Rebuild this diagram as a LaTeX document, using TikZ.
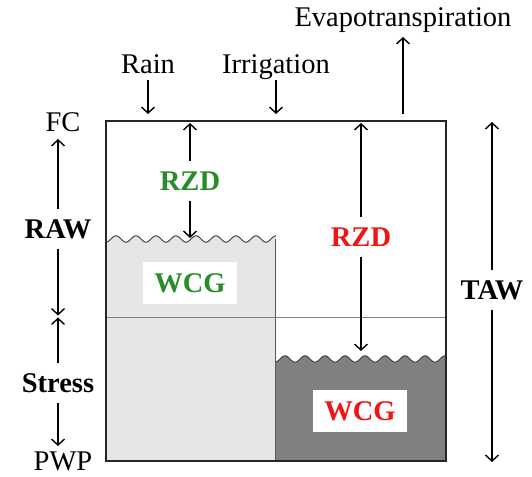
\documentclass[tikz,border=0pt]{standalone}
\usepackage{fontspec}
\setmainfont{Liberation Serif}
\usetikzlibrary{arrows.meta}
\definecolor{wgreen}{RGB}{40,140,40}
\definecolor{wred}{RGB}{240,20,20}
\definecolor{lightfill}{RGB}{230,230,230}
\definecolor{darkfill}{RGB}{128,128,128}
\begin{document}
\begin{tikzpicture}[x=1pt,y=-1pt,
  lbl/.style={font=\fontsize{28.5}{30}\selectfont, inner sep=0pt},
  blbl/.style={font=\fontsize{28.5}{30}\selectfont\bfseries, inner sep=10pt},
  wbox/.style={font=\fontsize{28.5}{30}\selectfont\bfseries, fill=white, inner xsep=11pt, inner ysep=11pt},
  arr/.style={-{Straight Barb[length=6pt,width=13pt]}, line width=1.4pt},
  wave/.style={draw=black!75, line width=1pt},
]
\useasboundingbox (0,0) rectangle (532,476);

% water columns
\fill[lightfill] (106,461) -- (106,239)
  -- plot[domain=106:276,samples=150] (\x,{239+3.2*cos(18*(\x-106))})
  -- (276,461) -- cycle;
\fill[darkfill] (275,461) -- (275,359)
  -- plot[domain=275:446,samples=150] (\x,{359+3.2*cos(18*(\x-275))})
  -- (446,461) -- cycle;
\draw[wave] plot[domain=106:276,samples=150] (\x,{239+3.2*cos(18*(\x-106))});
\draw[wave] plot[domain=275:446,samples=150] (\x,{359+3.2*cos(18*(\x-275))});
\draw[black!65, line width=1pt] (275.5,239) -- (275.5,461);
\draw[black!50, line width=1pt] (106,317) -- (446,317);

% main box
\draw[black!85, line width=1.4pt] (106,121) rectangle (446,461);

% labels
\node[lbl] (evap) at (403,26.5) [anchor=base] {Evapotranspiration};
\node[lbl] (rain) at (148,64) {Rain};
\node[lbl] (irr) at (276,73.5) [anchor=base] {Irrigation};
\node[lbl] (fc) at (63,122) {FC};
\node[lbl] (pwp) at (63,461) {PWP};

\node[blbl] (raw) at (58,229) {RAW};
\node[blbl] (stress) at (58,383) {Stress};
\node[blbl] (taw) at (492,290) {TAW};
\node[blbl, text=wgreen] (rzdG) at (190,181) {RZD};
\node[blbl, text=wred] (rzdR) at (361,237) {RZD};

\node[wbox, text=wgreen] (wcgG) at (190,283) {WCG};
\node[wbox, text=wred] (wcgR) at (360,411) {WCG};

% arrow end points
\coordinate (evS) at (403,114);
\coordinate (evT) at (403,37);
\coordinate (rainT) at (148,114);
\coordinate (irrT) at (276,114);
\coordinate (fcT) at (58,139);
\coordinate (midU) at (58,315.5);
\coordinate (midD) at (58,317.5);
\coordinate (pwpT) at (58,446);
\coordinate (tawT) at (492,122);
\coordinate (tawB) at (492,462);
\coordinate (gT) at (190,123);
\coordinate (gB) at (190,238);
\coordinate (rT) at (361,123);
\coordinate (rB) at (361,351);

% arrows
\draw[arr] (evS) -- (evT);
\draw[arr] ([yshift=-7pt]rain.base) -- (rainT);
\draw[arr] ([yshift=-7pt]irr.base) -- (irrT);
\draw[arr] (raw) -- (fcT);
\draw[arr] (raw) -- (midU);
\draw[arr] (stress) -- (midD);
\draw[arr] (stress) -- (pwpT);
\draw[arr] (taw) -- (tawT);
\draw[arr] (taw) -- (tawB);
\draw[arr] (rzdG) -- (gT);
\draw[arr] (rzdG) -- (gB);
\draw[arr] (rzdR) -- (rT);
\draw[arr] (rzdR) -- (rB);
\end{tikzpicture}
\end{document}
